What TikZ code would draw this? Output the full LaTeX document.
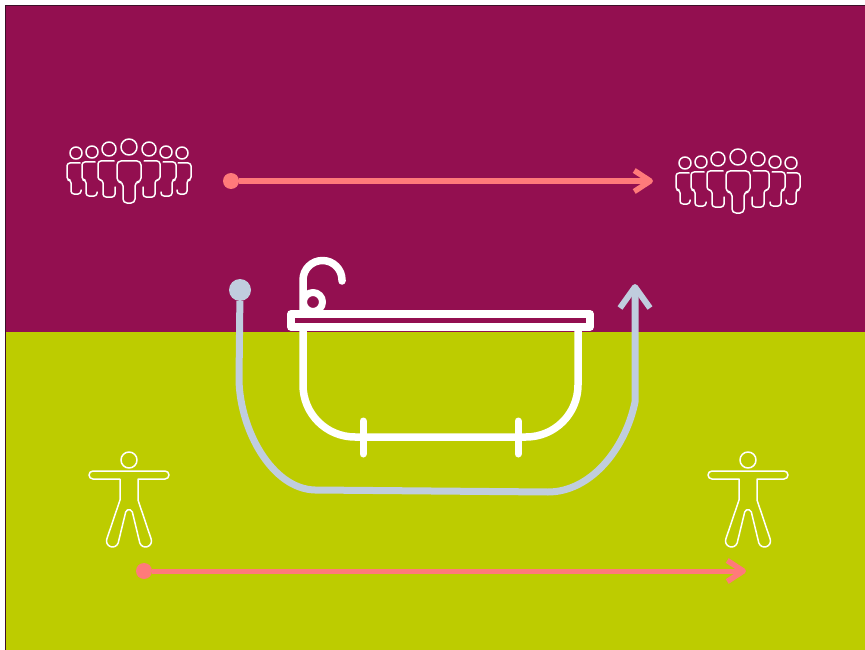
\documentclass[tikz,border=0pt]{standalone}
\usepackage{xcolor}
\usetikzlibrary{arrows.meta, calc}
\definecolor{plumbg}{RGB}{147,15,80}
\definecolor{limebg}{RGB}{189,204,0}
\definecolor{coral}{RGB}{255,122,122}
\definecolor{steel}{RGB}{192,205,222}
\definecolor{edgedark}{RGB}{60,15,40}
\tikzset{
  outline/.style={draw=white,line width=1.5pt,line join=round,line cap=round},
  tubline/.style={draw=white,line width=7.5pt,line join=round,line cap=round},
  pinkdot/.style={circle,fill=coral,inner sep=0pt,minimum size=16pt},
  greydot/.style={circle,fill=steel,inner sep=0pt,minimum size=22pt},
  pinkarrow/.style={-{Straight Barb[length=16pt,width=21pt,line cap=butt,line join=round,line width=5.5pt]},coral,line width=5pt},
  greyarrow/.style={-{Straight Barb[length=21pt,width=30pt,line cap=butt,line join=round,line width=6pt]},steel,line width=7pt},
  crowd/.pic={
    \draw[outline] (0,0) circle (8);
    \draw[outline,rounded corners=4] (-6,35) -- (-12,35) -- (-12,14) -- (12,14) -- (12,35) -- (6,35) -- (6,56) -- (-6,56) -- cycle;
    \foreach \s in {1,-1} {
      \draw[outline] (\s*20,2) circle (7);
      \draw[outline] (\s*37,5) circle (6);
      \draw[outline] (\s*53,6) circle (6);
      \draw[outline,rounded corners=3] (\s*15,14) -- (\s*31,14) -- (\s*31,33) -- (\s*26,33) -- (\s*26,50) -- (\s*14,50) -- (\s*14,40);
      \draw[outline,rounded corners=3] (\s*34,15) -- (\s*47,15) -- (\s*47,33) -- (\s*43,33) -- (\s*43,49) -- (\s*32,49) -- (\s*32,45);
      \draw[outline,rounded corners=3] (\s*49,16) -- (\s*62,16) -- (\s*62,33) -- (\s*58,33) -- (\s*58,47) -- (\s*48,47) -- (\s*48,43);
    }
  },
  figure/.pic={
    \draw[outline] (0,0) circle (8);
    \draw[outline] (-36,19) -- (-9,19) -- (-9,40) -- (-22.2,79.1)
      arc[start angle=198.4,end angle=18.4,radius=6] -- (-3.3,52)
      arc[start angle=198.4,end angle=341.6,radius=3.5] -- (10.8,82.9)
      arc[start angle=161.6,end angle=-18.4,radius=6] -- (9,40) -- (9,19) -- (36,19)
      arc[start angle=90,end angle=-90,radius=4] -- (-36,11)
      arc[start angle=270,end angle=90,radius=4] -- cycle;
  }
}
\begin{document}
\begin{tikzpicture}[x=1pt,y=-1pt]
  \useasboundingbox (0,0) rectangle (865,650);
  \fill[white] (0,0) rectangle (865,650);
  \fill[plumbg] (6,6) rectangle (865,332);
  \fill[limebg] (6,332) rectangle (865,650);
  \draw[edgedark,line width=1pt] (5.5,650) -- (5.5,5.5) -- (865,5.5);

  \pic at (129,147) {crowd};
  \pic at (738,157) {crowd};
  \pic at (129,460) {figure};
  \pic at (748,460) {figure};

  \node[pinkdot] (topstart) at (231,181) {};
  \coordinate (topend) at (653,181);
  \draw[pinkarrow] (topstart) -- (topend);
  \node[pinkdot] (lowstart) at (144,571) {};
  \coordinate (lowend) at (746,571);
  \draw[pinkarrow] (lowstart) -- (lowend);

  \node[greydot] (tubstart) at (240,290) {};
  \coordinate (tubend) at (635,284);
  \draw[greyarrow] (tubstart) -- (239,380) .. controls (240,430) and (272,489) .. (315,490)
    -- (548,492) .. controls (590,492) and (625,450) .. (635,402) -- (tubend);

  \draw[tubline] (291,314) rectangle (590,327);
  \draw[tubline] (303,327) -- (303,385) arc[start angle=180,end angle=90,radius=52]
    -- (526,437) arc[start angle=90,end angle=0,radius=52] -- (578,327);
  \draw[tubline,line width=7pt] (363,421) -- (363,454);
  \draw[tubline,line width=7pt] (518,421) -- (518,454);
  \draw[tubline] (303,312) -- (303,280) arc[start angle=180,end angle=360,radius=19.5] -- (342,281);
  \draw[tubline,line width=7pt] (313,302) circle (9.5);
\end{tikzpicture}
\end{document}
